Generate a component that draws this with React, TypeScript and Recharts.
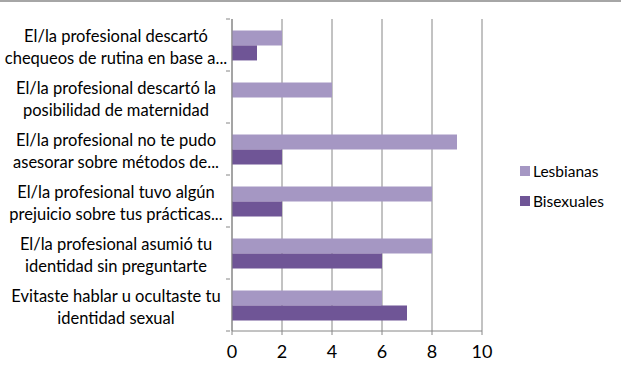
import React from "react";
import { BarChart, Bar, XAxis, YAxis, CartesianGrid } from "recharts";

const categories: string[][] = [
  ["El/la profesional descartó", "chequeos de rutina en base a..."],
  ["El/la profesional descartó la", "posibilidad de maternidad"],
  ["El/la profesional no te pudo", "asesorar sobre métodos de..."],
  ["El/la profesional tuvo algún", "prejuicio sobre tus prácticas..."],
  ["El/la profesional asumió tu", "identidad sin preguntarte"],
  ["Evitaste hablar u ocultaste tu", "identidad sexual"],
];
const lesbianas = [2, 4, 9, 8, 8, 6];
const bisexuales = [1, 0, 2, 2, 6, 7];
const xTicks = [0, 2, 4, 6, 8, 10];
const seriesNames = ["Lesbianas", "Bisexuales"];
const colors = ["#A597C3", "#6F5596"];

const data = categories.map((c, i) => ({
  name: c.join("\n"),
  Lesbianas: lesbianas[i],
  Bisexuales: bisexuales[i],
}));

const FONT = "Lato, 'Open Sans', sans-serif";

const CatTick = (props: any) => {
  const { x, y, payload, index } = props;
  const lines = String(payload.value).split("\n");
  const off = payload.offset || 0;
  const ax = x + 6;
  const cx = ax - 114;
  return (
    <g>
      <line x1={ax - 4} x2={ax} y1={y - off} y2={y - off} stroke="#868686" />
      {index === categories.length - 1 && (
        <line x1={ax - 4} x2={ax} y1={y + off} y2={y + off} stroke="#868686" />
      )}
      <text x={cx} y={y} textAnchor="middle" fontFamily={FONT} fontSize={16.5} fill="#000">
        <tspan x={cx} dy={-3}>{lines[0]}</tspan>
        <tspan x={cx} dy={22}>{lines[1]}</tspan>
      </text>
    </g>
  );
};

export default function App() {
  return (
    <div style={{ position: "absolute", left: 0, top: 0, width: 621, height: 374, background: "#fff" }}>
      <div style={{ position: "absolute", left: 0, top: 0, width: 621, height: 2, background: "#A6A6A6" }} />
      <BarChart
        width={621}
        height={374}
        data={data}
        layout="vertical"
        margin={{ top: 19, right: 139, bottom: 13, left: 0 }}
        barCategoryGap="22%"
        barGap={0}
      >
        <CartesianGrid horizontal={false} vertical={true} stroke="#868686" strokeWidth={1} />
        <XAxis
          type="number"
          domain={[0, 10]}
          ticks={xTicks}
          stroke="#868686"
          tickSize={4}
          height={30}
          tick={{ fill: "#000", fontSize: 18, fontFamily: FONT }}
          tickMargin={10}
        />
        <YAxis
          type="category"
          dataKey="name"
          width={232}
          stroke="#868686"
          tickLine={false}
          tick={<CatTick />}
          interval={0}
        />
        <Bar dataKey="Lesbianas" fill={colors[0]} isAnimationActive={false} />
        <Bar dataKey="Bisexuales" fill={colors[1]} isAnimationActive={false} />
      </BarChart>
      <div style={{ position: "absolute", left: 520, top: 156, fontFamily: FONT, fontSize: 15.5 }}>
        {seriesNames.map((n, i) => (
          <div key={n} style={{ display: "flex", alignItems: "center", height: 30 }}>
            <div style={{ width: 10, height: 10, background: colors[i], marginRight: 3 }} />
            <span>{n}</span>
          </div>
        ))}
      </div>
    </div>
  );
}
